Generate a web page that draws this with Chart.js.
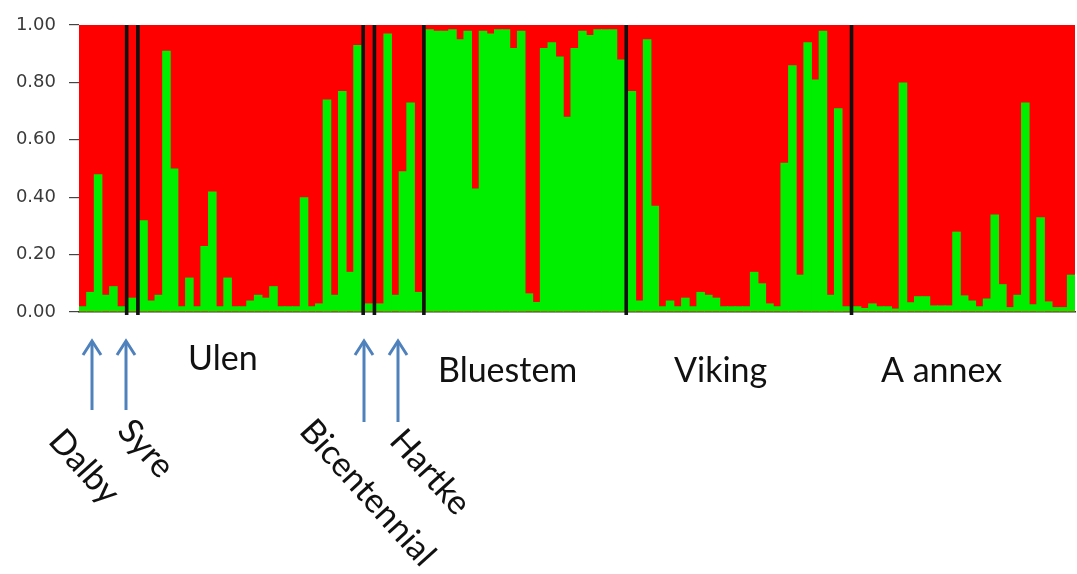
<!DOCTYPE html>
<html lang="en">
<head>
  <meta charset="UTF-8" />
  <title>Structure plot</title>
  <script src="https://cdn.jsdelivr.net/npm/chart.js"></script>
  <style>
    html, body { margin: 0; padding: 0; background: #fff; }
    #wrap { position: relative; width: 1077px; height: 574px; }
  </style>
</head>
<body>
  <div id="wrap"><canvas id="chart"></canvas></div>

  <script>
    // green membership per individual, grouped by population (red = 1 - green)
    const populations = ['Dalby', 'Syre', 'Ulen', 'Bicentennial', 'Hartke', 'Bluestem', 'Viking', 'A annex'];
    const dalby = [0.02, 0.07, 0.48, 0.06, 0.09, 0.02];
    const syre = [0.05];
    const ulen = [0.32, 0.04, 0.06, 0.91, 0.50, 0.02, 0.12, 0.02, 0.23, 0.42, 0.02, 0.12, 0.02, 0.02, 0.04,
                  0.06, 0.05, 0.09, 0.02, 0.02, 0.02, 0.40, 0.02, 0.03, 0.74, 0.06, 0.77, 0.14, 0.93];
    const bicentennial = [0.03];
    const hartke = [0.03, 0.97, 0.06, 0.49, 0.73, 0.07];
    const bluestem = [0.985, 0.98, 0.98, 0.985, 0.95, 0.98, 0.43, 0.98, 0.97, 0.985, 0.985, 0.92, 0.98,
                      0.065, 0.035, 0.92, 0.94, 0.89, 0.68, 0.92, 0.98, 0.965, 0.985, 0.985, 0.985, 0.88];
    const viking = [0.77, 0.04, 0.95, 0.37, 0.02, 0.04, 0.02, 0.05, 0.02, 0.07, 0.06, 0.05, 0.02, 0.02, 0.02,
                    0.02, 0.14, 0.10, 0.03, 0.02, 0.52, 0.86, 0.13, 0.94, 0.81, 0.98, 0.06, 0.71, 0.02];
    const aAnnex = [0.02, 0.014, 0.03, 0.02, 0.02, 0.012, 0.80, 0.034, 0.055, 0.055, 0.023, 0.023, 0.023, 0.28,
                    0.058, 0.04, 0.02, 0.047, 0.34, 0.097, 0.017, 0.06, 0.73, 0.027, 0.33, 0.037, 0.017, 0.017, 0.13];
    const groups = [dalby, syre, ulen, bicentennial, hartke, bluestem, viking, aAnnex];
    const yTicks = [0, 0.2, 0.4, 0.6, 0.8, 1.0];

    const gapWidth = 0.47; // room taken by each black separator, in bar widths
    const red = '#fe0000';
    const green = '#00ee00';

    // lay individuals out along x, leaving a small gap between populations
    const xs = [];
    const greenVals = [];
    const separators = [];
    let k = 0;
    groups.forEach((g, gi) => {
      if (gi > 0) separators.push(k - 1 + (gi - 1) * gapWidth + (1 + gapWidth) / 2);
      g.forEach(v => {
        xs.push(k + gi * gapWidth);
        greenVals.push(v);
        k++;
      });
    });
    const greenData = xs.map((x, i) => ({ x, y: greenVals[i] }));
    const redData = xs.map((x, i) => ({ x, y: 1 - greenVals[i] }));

    // annotation layout (pixels)
    const labelFont = '34px Lato';
    const flatLabels = [
      { text: 'Ulen', x: 188, y: 370 },
      { text: 'Bluestem', x: 438, y: 382 },
      { text: 'Viking', x: 674, y: 382 },
      { text: 'A annex', x: 881, y: 382 }
    ];
    const slantLabels = [
      { text: 'Dalby', x: 47, y: 442 },
      { text: 'Syre', x: 116, y: 432 },
      { text: 'Bicentennial', x: 298, y: 432 },
      { text: 'Hartke', x: 388, y: 442 }
    ];
    const arrows = [
      { x: 92, from: 410, to: 340 },
      { x: 126, from: 410, to: 340 },
      { x: 364, from: 422, to: 340 },
      { x: 398, from: 422, to: 340 }
    ];

    // red plot background so sub-pixel seams between bars don't show white
    const plotBackground = {
      id: 'plotBackground',
      beforeDatasetsDraw(chart) {
        const { ctx, chartArea } = chart;
        ctx.save();
        ctx.fillStyle = red;
        ctx.fillRect(chartArea.left, chartArea.top, chartArea.width, chartArea.height);
        ctx.restore();
      }
    };

    const separatorPlugin = {
      id: 'separators',
      afterDatasetsDraw(chart) {
        const { ctx, chartArea, scales } = chart;
        ctx.save();
        ctx.strokeStyle = '#111';
        ctx.lineWidth = 3.6;
        separators.forEach(s => {
          const px = scales.x.getPixelForValue(s);
          ctx.beginPath();
          ctx.moveTo(px, chartArea.top);
          ctx.lineTo(px, chartArea.bottom + 3);
          ctx.stroke();
        });
        ctx.restore();
      }
    };

    const annotationPlugin = {
      id: 'annotations',
      afterDraw(chart) {
        const ctx = chart.ctx;
        ctx.save();
        // arrows
        ctx.strokeStyle = '#4f81bd';
        ctx.lineWidth = 3;
        arrows.forEach(a => {
          ctx.beginPath();
          ctx.moveTo(a.x, a.from);
          ctx.lineTo(a.x, a.to + 1);
          ctx.stroke();
          ctx.beginPath();
          ctx.moveTo(a.x - 9, a.to + 15);
          ctx.lineTo(a.x, a.to + 1);
          ctx.lineTo(a.x + 9, a.to + 15);
          ctx.stroke();
        });
        // labels
        ctx.fillStyle = '#111';
        ctx.font = labelFont;
        ctx.textAlign = 'left';
        ctx.textBaseline = 'alphabetic';
        flatLabels.forEach(l => ctx.fillText(l.text, l.x, l.y));
        slantLabels.forEach(l => {
          ctx.save();
          ctx.translate(l.x, l.y);
          ctx.rotate(48 * Math.PI / 180);
          ctx.fillText(l.text, 0, 0);
          ctx.restore();
        });
        ctx.restore();
      }
    };

    new Chart(document.getElementById('chart'), {
      type: 'bar',
      data: {
        datasets: [
          {
            label: 'Cluster 2',
            data: greenData,
            backgroundColor: green,
            borderWidth: 0,
            categoryPercentage: 1,
            barPercentage: 1.12
          },
          {
            label: 'Cluster 1',
            data: redData,
            backgroundColor: red,
            borderWidth: 0,
            categoryPercentage: 1,
            barPercentage: 1.12
          }
        ]
      },
      options: {
        responsive: true,
        maintainAspectRatio: false,
        animation: false,
        layout: { padding: { top: 25, right: 2, bottom: 262, left: 0 } },
        plugins: { legend: { display: false }, tooltip: { enabled: false } },
        scales: {
          x: {
            type: 'linear',
            min: -0.5,
            max: xs[xs.length - 1] + 0.5,
            offset: false,
            stacked: true,
            ticks: { display: false },
            grid: { display: false, drawTicks: false },
            border: { display: true, color: '#333', width: 1.5 },
            afterFit: s => { s.height = 0; }
          },
          y: {
            min: 0,
            max: 1,
            stacked: true,
            afterBuildTicks: s => { s.ticks = yTicks.map(v => ({ value: v })); },
            ticks: {
              callback: v => v.toFixed(2),
              color: '#3a3a3a',
              padding: 13,
              font: { family: 'DejaVu Sans', size: 18 }
            },
            grid: { drawOnChartArea: false, drawTicks: true, tickLength: 10, color: '#444', lineWidth: 1.2 },
            border: { display: true, color: '#444', width: 1 },
            afterFit: s => { s.width = 79; }
          }
        }
      },
      plugins: [plotBackground, separatorPlugin, annotationPlugin]
    });
  </script>
</body>
</html>
